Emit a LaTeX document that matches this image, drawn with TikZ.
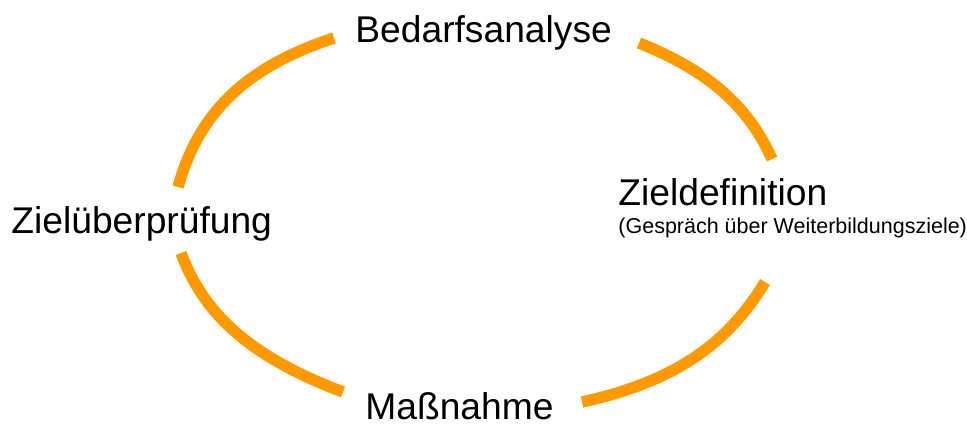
\documentclass[tikz,border=0pt]{standalone}
\usepackage{fontspec}
\setmainfont{Liberation Sans}
\usepackage{xcolor}
\definecolor{cycleorange}{RGB}{255, 153, 0}

\begin{document}
\begin{tikzpicture}[x=0.5pt, y=-0.5pt,
    arcline/.style={cycleorange, line width=5.7pt},
    bigtext/.style={font=\fontsize{18.6}{22}\selectfont, inner sep=0pt, anchor=base west},
    smalltext/.style={font=\fontsize{10.75}{13}\selectfont, inner sep=0pt, anchor=base west}]
    \useasboundingbox (0, 0) rectangle (967, 423);
    \node[bigtext] (bedarf) at (355, 42) {Bedarfsanalyse};
    \node[bigtext] (ziel) at (618, 205) {Zieldefinition};
    \node[smalltext] (zielsub) at (618, 233) {(Gespräch über Weiterbildungsziele)};
    \node[bigtext] (massnahme) at (365, 419) {Maßnahme};
    \node[bigtext] (pruefung) at (11, 233) {Zielüberprüfung};
    % arc ends next to the labels
    \coordinate (tl1) at (178, 187);
    \coordinate (tl2) at (334, 38);
    \coordinate (tr1) at (639, 43);
    \coordinate (tr2) at (772, 159);
    \coordinate (br1) at (765, 282);
    \coordinate (br2) at (582, 402);
    \coordinate (bl1) at (343, 392);
    \coordinate (bl2) at (181, 253);
    % the four arcs of the cycle
    \draw[arcline] (tl1) .. controls (199, 112) and (246, 67) .. (tl2);
    \draw[arcline] (tr1) .. controls (708, 70.6) and (747.8, 105.4) .. (tr2);
    \draw[arcline] (br1) .. controls (726.4, 346.3) and (671.5, 382.3) .. (br2);
    \draw[arcline] (bl1) .. controls (252.9, 357.8) and (204.3, 316.1) .. (bl2);
  \end{tikzpicture}
\end{document}
